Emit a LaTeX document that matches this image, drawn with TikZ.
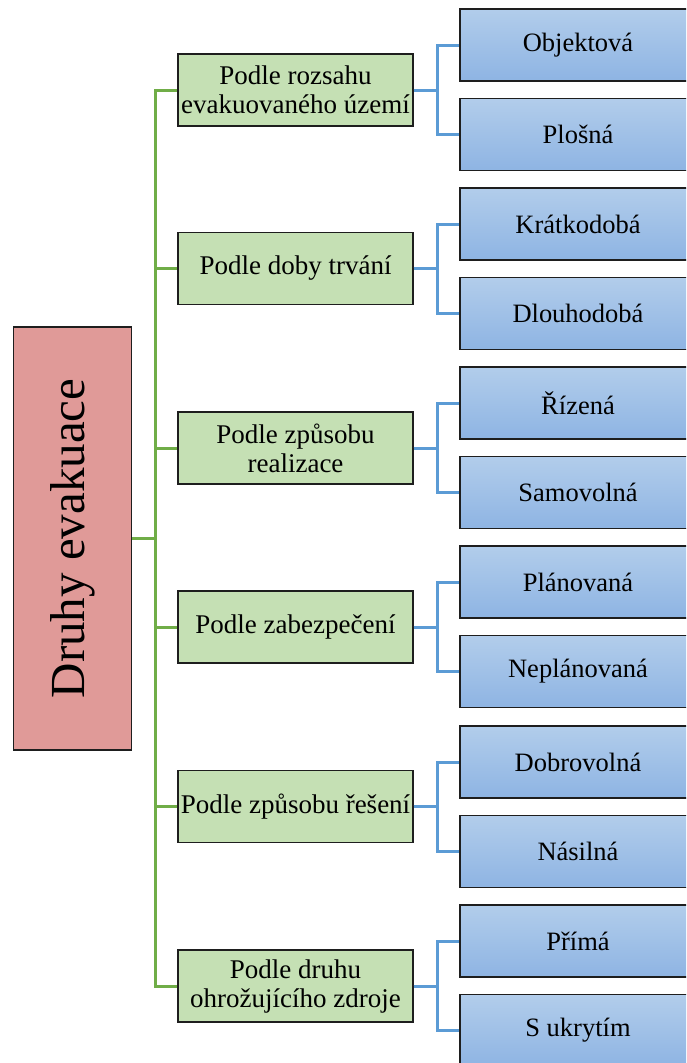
\documentclass[tikz,border=0pt]{standalone}
\usepackage{fontspec}
\setmainfont{Liberation Serif}
\definecolor{rootfill}{RGB}{224,154,152}
\definecolor{greenfill}{RGB}{197,224,180}
\definecolor{bluetop}{RGB}{178,205,235}
\definecolor{bluebot}{RGB}{142,180,227}
\definecolor{gline}{RGB}{112,173,71}
\definecolor{bline}{RGB}{91,155,213}
\definecolor{edge}{RGB}{30,30,30}
\begin{document}
\begin{tikzpicture}[x=1pt,y=-1pt,
  rootbox/.style={draw=edge,line width=1.2pt,fill=rootfill,minimum width=118pt,minimum height=423pt,inner sep=0pt},
  greenbox/.style={draw=edge,line width=1.2pt,fill=greenfill,minimum width=235pt,minimum height=72pt,inner sep=0pt,align=center,font=\fontsize{27}{29}\selectfont},
  bluebox/.style={draw=edge,line width=1.2pt,top color=bluetop,bottom color=bluebot,minimum width=236pt,minimum height=72pt,inner sep=0pt,font=\fontsize{26.5}{29}\selectfont},
  gconn/.style={draw=gline,line width=3pt},
  bconn/.style={draw=bline,line width=3pt}]
\useasboundingbox (0,0) rectangle (686,1063);
\clip (0,0) rectangle (686,1063);
% root
\node[rootbox] (root) at (72.5,538.5) {};
\node[rotate=90,font=\fontsize{49}{52}\selectfont,inner sep=0pt] (roottext) at (root.center) {Druhy evakuace};
% green nodes
\node[greenbox] (g1) at (295.5,90) {Podle rozsahu\\evakuovaného území};
\node[greenbox] (g2) at (295.5,268.5) {Podle doby trvání};
\node[greenbox] (g3) at (295.5,448) {Podle způsobu\\realizace};
\node[greenbox] (g4) at (295.5,627) {Podle zabezpečení};
\node[greenbox] (g5) at (295.5,806.5) {Podle způsobu řešení};
\node[greenbox] (g6) at (295.5,986) {Podle druhu\\ohrožujícího zdroje};
% blue nodes
\node[bluebox] (b11) at (578,45) {Objektová};
\node[bluebox] (b12) at (578,134.5) {Plošná};
\node[bluebox] (b21) at (578,224) {Krátkodobá};
\node[bluebox] (b22) at (578,313.5) {Dlouhodobá};
\node[bluebox] (b31) at (578,403) {Řízená};
\node[bluebox] (b32) at (578,492.5) {Samovolná};
\node[bluebox] (b41) at (578,582) {Plánovaná};
\node[bluebox] (b42) at (578,671.5) {Neplánovaná};
\node[bluebox] (b51) at (578,762) {Dobrovolná};
\node[bluebox] (b52) at (578,851.5) {Násilná};
\node[bluebox] (b61) at (578,941) {Přímá};
\node[bluebox] (b62) at (578,1030.5) {S ukrytím};
% green connectors
\coordinate (trunk) at (155,538.5);
\draw[gconn] (root.east) -- (trunk);
\foreach \g in {g1,g2,g3,g4,g5,g6}{
  \draw[gconn] (trunk) |- (\g.west);
}
% blue connectors
\foreach \i in {1,...,6}{
  \draw[bconn] (g\i.east) -- ++(24,0) |- (b\i1.west);
  \draw[bconn] (g\i.east) -- ++(24,0) |- (b\i2.west);
}
\end{tikzpicture}
\end{document}
